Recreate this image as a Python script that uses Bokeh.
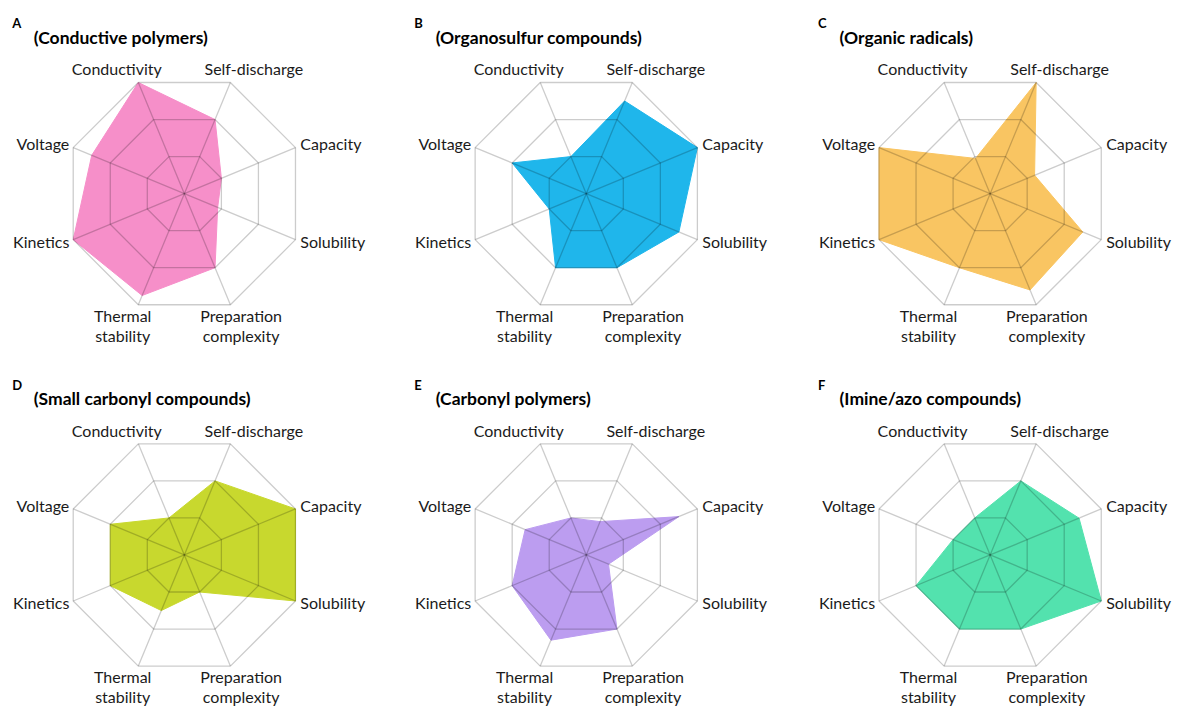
import numpy as np
from bokeh.plotting import figure
from bokeh.models import Range1d
from bokeh.embed import file_html
from bokeh.resources import INLINE
from bokeh.core.properties import value

# ---------------- data ----------------
axis_names = ["Conductivity", "Self-discharge", "Capacity", "Solubility",
              "Preparation complexity", "Thermal stability", "Kinetics", "Voltage"]
axis_label_lines = [["Conductivity"], ["Self-discharge"], ["Capacity"], ["Solubility"],
                    ["Preparation", "complexity"], ["Thermal", "stability"], ["Kinetics"], ["Voltage"]]
panel_letters = ["A", "B", "C", "D", "E", "F"]
panel_titles = ["(Conductive polymers)", "(Organosulfur compounds)", "(Organic radicals)",
                "(Small carbonyl compounds)", "(Carbonyl polymers)", "(Imine/azo compounds)"]

conductive_polymers = [3, 2, 1, 0.9, 2, 2.75, 3, 2.5]
organosulfur = [1, 2.5, 3, 2.5, 2, 2, 1, 2]
organic_radicals = [0.95, 3, 1.2, 2.5, 2.6, 2, 3, 3]
small_carbonyl = [1, 2, 3, 3, 1, 1.5, 2, 2]
carbonyl_polymers = [1, 0.9, 2.5, 0.6, 2, 2.3, 2, 1.65]
imine_azo = [1, 2, 2.4, 3, 2, 2, 2, 1]
series = [conductive_polymers, organosulfur, organic_radicals,
          small_carbonyl, carbonyl_polymers, imine_azo]
fill_colors = ["#F68FC9", "#1FB6EB", "#F9C562", "#C8D82E", "#BC9DF0", "#53E2AE"]
max_level = 3

# ---------------- layout (in reference-pixel units, scaled to fit) ----------------
W, H = 1187, 708
REF_H = 724
scale = H / REF_H
centers = [(188, 197.5), (599, 197.5), (1012, 197.5),
           (188, 567), (599, 567), (1012, 567)]
R = 123.0                       # radius of outer ring
angles = np.deg2rad(112.5 - 45 * np.arange(8))

# label placement relative to each outer vertex: (dx, dy, align)
label_place = [(-22, -14, "center"), (24, -14, "center"), (5, -4, "left"), (5, 2, "left"),
               (11, 11, "center"), (-16, 11, "center"), (-4, 2, "right"), (-4, -4, "right")]
line_gap = 20

p = figure(width=W, height=H, x_range=Range1d(0, W / scale), y_range=Range1d(REF_H, 0),
           output_backend="svg", toolbar_location=None, min_border=0,
           x_axis_location=None, y_axis_location=None)
p.grid.grid_line_color = None
p.outline_line_color = None
p.background_fill_color = "white"
p.border_fill_color = "white"

font = value("Lato")
txt_color = "#1b1b1b"

for k in range(6):
    cx, cy = centers[k]
    vals = np.array(series[k], dtype=float)
    rr = vals / max_level * R
    xs = cx + rr * np.cos(angles)
    ys = cy - rr * np.sin(angles)
    p.patch(list(xs), list(ys), fill_color=fill_colors[k], fill_alpha=1.0,
            line_color=fill_colors[k], line_width=1)

    # grid rings and spokes (drawn on top with translucent dark so they tint the fill)
    ring_x, ring_y = [], []
    for lev in range(1, max_level + 1):
        r = lev / max_level * R
        rx = list(cx + r * np.cos(angles)); ry = list(cy - r * np.sin(angles))
        ring_x.append(rx + [rx[0]]); ring_y.append(ry + [ry[0]])
    for a in angles:
        ring_x.append([cx, cx + R * np.cos(a)]); ring_y.append([cy, cy - R * np.sin(a)])
    p.multi_line(ring_x, ring_y, line_color="black", line_alpha=0.2, line_width=1.3)

    # axis labels
    for i, lines in enumerate(axis_label_lines):
        vx = cx + R * np.cos(angles[i]); vy = cy - R * np.sin(angles[i])
        dx, dy, al = label_place[i]
        for j, t in enumerate(lines):
            p.text(x=[vx + dx], y=[vy + dy + j * line_gap], text=[t], text_align=al,
                   text_baseline="middle", text_font=font, text_font_size="16px",
                   text_color=txt_color)

    # panel letter + title
    p.text(x=[cx - 176], y=[cy - 174], text=[panel_letters[k]], text_align="left",
           text_baseline="middle", text_font=font, text_font_size="13px",
           text_font_style="bold", text_color="black")
    p.text(x=[cx - 154], y=[cy - 160], text=[panel_titles[k]], text_align="left",
           text_baseline="middle", text_font=font, text_font_size="17.5px",
           text_font_style="bold", text_color="black")

open("out.html", "w").write(file_html(p, INLINE))
